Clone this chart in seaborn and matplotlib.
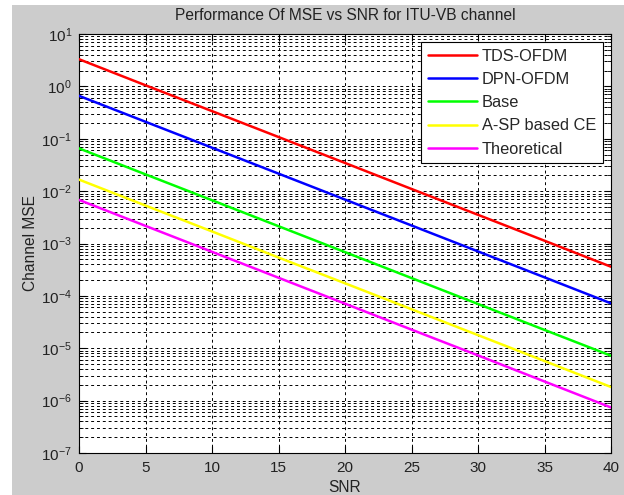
import numpy as np
import pandas as pd
import matplotlib
matplotlib.use("Agg")
import matplotlib.pyplot as plt
import matplotlib.ticker as mticker
from matplotlib.patches import Rectangle
import seaborn as sns

snr = [0, 5, 10, 15, 20, 25, 30, 35, 40]
tds_ofdm = [3.3, 1.05, 0.337, 0.108, 0.0345, 0.0110, 0.00353, 0.00113, 3.6e-4]
dpn_ofdm = [0.66, 0.211, 0.0675, 0.0216, 0.0069, 0.00221, 7.06e-4, 2.26e-4, 7.2e-5]
base = [0.0655, 0.0209, 0.0067, 0.00214, 6.85e-4, 2.19e-4, 7.0e-5, 2.24e-5, 7.2e-6]
asp_ce = [0.0166, 0.0053, 0.0017, 5.4e-4, 1.74e-4, 5.56e-5, 1.78e-5, 5.7e-6, 1.82e-6]
theoretical = [0.0068, 0.00217, 6.94e-4, 2.22e-4, 7.1e-5, 2.27e-5, 7.3e-6, 2.32e-6, 7.4e-7]

names = ["TDS-OFDM", "DPN-OFDM", "Base", "A-SP based CE", "Theoretical"]
colors = ["#ff0000", "#0000ff", "#00ff00", "#ffff00", "#ff00ff"]

series = [tds_ofdm, dpn_ofdm, base, asp_ce, theoretical]
df = pd.concat([pd.DataFrame({"SNR": snr, "MSE": v, "method": n}) for n, v in zip(names, series)])

sns.set_style("white")
plt.rcParams["font.family"] = ["Liberation Sans", "DejaVu Sans"]
plt.rcParams["mathtext.fontset"] = "custom"
plt.rcParams["mathtext.rm"] = "Liberation Sans"

W, H = 624, 495
fig = plt.figure(figsize=(W / 100, H / 100), dpi=100)
fig.patch.set_facecolor("white")
bg = Rectangle((12 / W, 0), 1 - 12 / W, 1 - 5 / H, transform=fig.transFigure,
               facecolor="#cccccc", edgecolor="none", zorder=-10)
fig.add_artist(bg)
ax = fig.add_axes([79 / W, 1 - 453 / H, (611 - 79) / W, (453 - 34) / H])
ax.set_facecolor("white")

sns.lineplot(data=df, x="SNR", y="MSE", hue="method", hue_order=names, palette=colors,
             linewidth=1.8, ax=ax, zorder=3)

ax.set_yscale("log")
ax.set_xlim(0, 40)
ax.set_ylim(1e-7, 1e1)
ax.set_xticks(range(0, 41, 5))
ax.yaxis.set_major_locator(mticker.LogLocator(base=10, numticks=20))
ax.yaxis.set_minor_locator(mticker.LogLocator(base=10, subs=np.arange(2, 10), numticks=100))
ax.yaxis.set_minor_formatter(mticker.NullFormatter())

dash = (0, (3, 3))
ax.grid(True, which="major", axis="both", color="black", linestyle=dash, linewidth=0.7)
ax.grid(True, which="minor", axis="y", color="black", linestyle=dash, linewidth=0.7)
ax.set_axisbelow(True)

for s in ax.spines.values():
    s.set_color("black")
    s.set_linewidth(0.8)
ax.tick_params(which="both", direction="in", top=True, right=True, bottom=True, left=True,
               colors="black", labelsize=11, labelcolor="#222222")
ax.tick_params(which="major", length=5)
ax.tick_params(which="minor", length=3)
ax.tick_params(axis="x", pad=6)
ax.tick_params(axis="y", pad=5)

ax.set_title("Performance Of MSE vs SNR for ITU-VB channel", fontsize=11.2, color="#222222", pad=10)
ax.set_xlabel("SNR", fontsize=11.2, color="#222222", labelpad=3)
ax.set_ylabel("Channel MSE", fontsize=11.2, color="#222222", labelpad=2)

leg = ax.legend(loc="upper right", fontsize=11.8, frameon=True, fancybox=False, framealpha=1,
                edgecolor="black", handlelength=3.0, borderaxespad=0.5, labelspacing=0.5,
                borderpad=0.4, handletextpad=0.3)
leg.get_frame().set_linewidth(0.8)
for line in leg.get_lines():
    line.set_linewidth(1.8)

fig.savefig("out.png", dpi=100)
